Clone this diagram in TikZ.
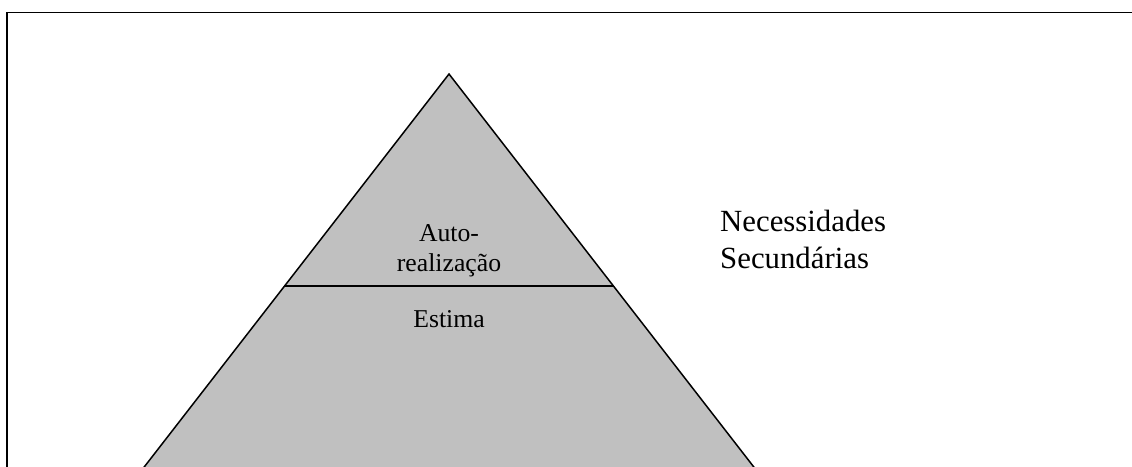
\documentclass[tikz,border=0pt]{standalone}
\usepackage{fontspec}
\setmainfont{Liberation Serif}
\begin{document}
\begin{tikzpicture}[x=1pt,y=-1pt,
  pyrtext/.style={anchor=base,inner sep=0pt,font=\fontsize{25.7}{30.5}\selectfont},
  sidetext/.style={anchor=base west,inner sep=0pt,font=\fontsize{30.8}{36}\selectfont},
  edge/.style={draw=black,line width=1.5pt}]
\useasboundingbox (0,0) rectangle (1132,466);
% frame (continues beyond right and bottom edges)
\draw[line width=1.9pt] (7,480) -- (7,12.5) -- (1145,12.5);
% pyramid
\coordinate (apex) at (449,74);
\coordinate (bl) at (134.1,480);
\coordinate (br) at (763.9,480);
\coordinate (ml) at (284.6,286);
\coordinate (mr) at (613.4,286);
\fill[fill={rgb,255:red,192;green,192;blue,192}] (apex) -- (br) -- (bl) -- cycle;
\draw[edge,line join=miter] (bl) -- (apex) -- (br);
\draw[edge] (ml) -- (mr);
% labels
\node[pyrtext] (auto1) at (449,241) {Auto-};
\node[pyrtext] (auto2) at (449,271.5) {realização};
\node[pyrtext] (estima) at (449,327.5) {Estima};
\node[sidetext] (nec1) at (720,231) {Necessidades};
\node[sidetext] (nec2) at (720,268) {Secundárias};
\end{tikzpicture}
\end{document}
